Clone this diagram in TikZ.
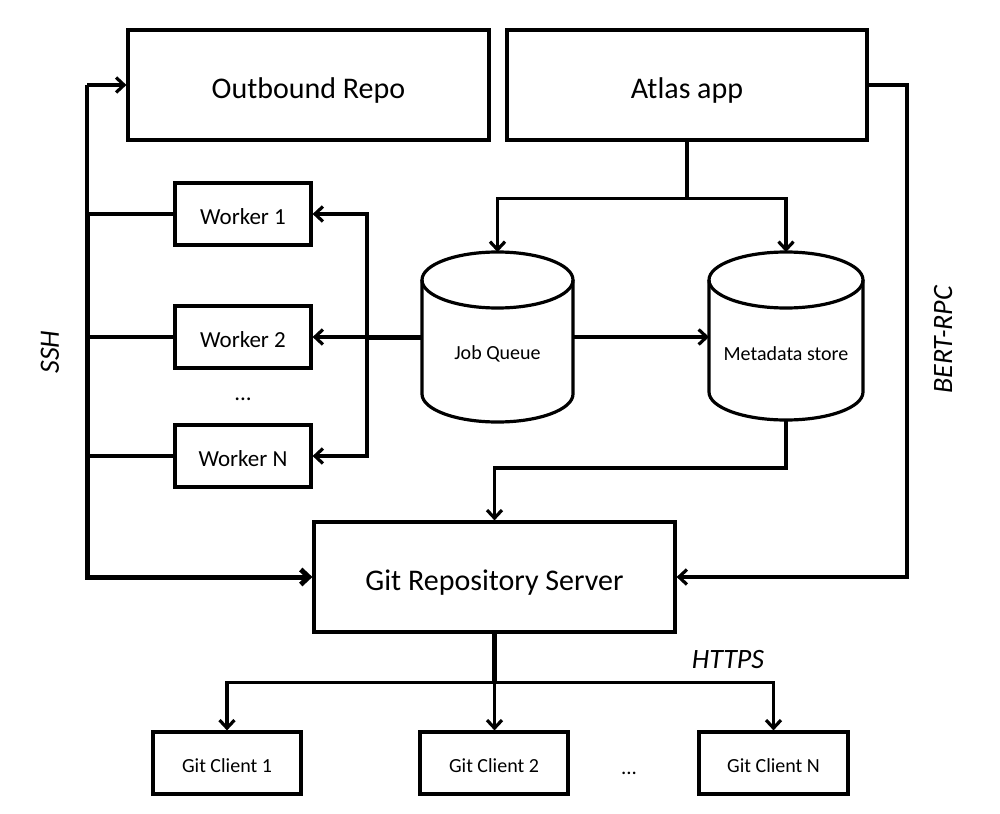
\documentclass[tikz,border=0pt]{standalone}
\usepackage{fontspec}
\setmainfont{Carlito}
\usetikzlibrary{arrows.meta}
\begin{document}
\begin{tikzpicture}[x=1pt,y=-1pt,
  lw/.style={line width=3.2pt},
  box/.style={draw, line width=3.2pt, inner sep=0pt, align=center, text depth=0pt},
  bigbox/.style={box, minimum height=110pt, text height=27pt, font=\fontsize{30}{36}\selectfont},
  wbox/.style={box, minimum width=136pt, minimum height=62pt, text height=20pt, font=\fontsize{23}{28}\selectfont},
  cbox/.style={box, minimum width=148pt, minimum height=62pt, text height=19pt, font=\fontsize{20}{24}\selectfont},
  dbbox/.style={inner sep=0pt, outer sep=0pt, minimum height=170pt},
  dbtext/.style={font=\fontsize{20}{24}\selectfont},
  arr/.style={-{Straight Barb[length=8pt,width=15pt]}},
  conn/.style={line width=3.2pt},
  thickconn/.style={line width=5pt},
  lbl/.style={font=\fontsize{28}{34}\selectfont\itshape},
  dots/.style={font=\fontsize{23}{28}\selectfont},
]
\useasboundingbox (0,0) rectangle (1000,813);

% top boxes
\node[bigbox, minimum width=361pt] (ob) at (308.5,85) {Outbound Repo};
\node[bigbox, minimum width=360pt] (atlas) at (687,85) {Atlas app};

% workers
\node[wbox] (w1) at (243,214) {Worker 1};
\node[wbox] (w2) at (243,337) {Worker 2};
\node[dots] (wdots) at (243,399) {...};
\node[wbox] (wn) at (243,456) {Worker N};

% cylinders
\node[dbbox, minimum width=151pt] (jq) at (497.5,337) {};
\draw[lw] (422,280) -- (422,394) arc[start angle=180,end angle=360,x radius=75.5pt,y radius=28pt] -- (573,280);
\draw[lw] (497.5,280) ellipse [x radius=75.5pt, y radius=28pt];
\node[dbtext] (jqt) at (497.5,354) {Job Queue};

\node[dbbox, minimum width=154pt, minimum height=168pt] (ms) at (786,336) {};
\draw[lw] (709,280) -- (709,392) arc[start angle=180,end angle=360,x radius=77pt,y radius=28pt] -- (863,280);
\draw[lw] (786,280) ellipse [x radius=77pt, y radius=28pt];
\node[dbtext] (mst) at (786,354) {Metadata store};

% git server
\node[bigbox, minimum width=361pt] (git) at (494.5,577) {Git Repository Server};

% clients
\node[cbox] (gc1) at (227,763) {Git Client 1};
\node[cbox] (gc2) at (494,763) {Git Client 2};
\node[dots, font=\fontsize{21}{25}\selectfont] (cdots) at (629,773) {...};
\node[cbox, minimum width=149pt] (gcn) at (773.5,763) {Git Client N};

% labels
\node[lbl, rotate=90] (ssh) at (50,352) {SSH};
\node[lbl, rotate=90] (bert) at (943,340) {BERT-RPC};
\node[lbl] (https) at (728,660) {HTTPS};

% atlas -> queues
\draw[conn] (atlas.south) -- ++(0,57) coordinate (aj);
\draw[conn,arr] (aj) -| (jq.north);
\draw[conn,arr] (aj) -| (ms.north);

% job queue -> metadata
\draw[conn,arr] (jq.east) -- (jq.east -| ms.west);

% job queue -> workers
\coordinate (vj) at (367,337);
\draw[thickconn] (jq.west) -- (vj);
\draw[conn,arr] (vj) -- (w2.east);
\draw[conn,arr] (vj) |- (w1.east);
\draw[conn,arr] (vj) |- (wn.east);

% metadata -> git
\draw[conn,arr] (ms.south) -- ++(0,48) -| (git.north);

% BERT-RPC
\coordinate (bc) at (907,85);
\draw[conn,arr] (atlas.east) -- (bc) |- (git.east);

% SSH bus
\coordinate (bt) at (87,85);
\coordinate (bb) at (87,577);
\draw[conn,arr] (bt) -- (ob.west);
\draw[conn] (bt) -- (w1.west -| bt);
\draw[thickconn,arr] (w1.west -| bt) -- (bb) -- (git.west);
\draw[conn] (w1.west) -- (w1.west -| bt);
\draw[conn] (w2.west) -- (w2.west -| bt);
\draw[conn] (wn.west) -- (wn.west -| bt);

% git -> clients
\draw[thickconn] (git.south) -- ++(0,49) coordinate (gj);
\draw[conn,arr] (gj) -| (gc1.north);
\draw[conn,arr] (gj) -- (gj |- gc2.north);
\draw[conn,arr] (gj) -| (gcn.north);
\end{tikzpicture}
\end{document}
